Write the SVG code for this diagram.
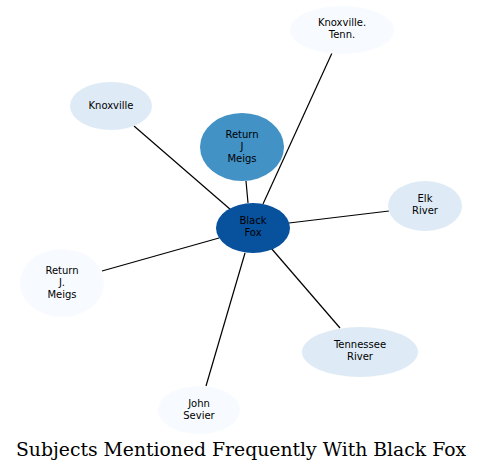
<svg xmlns="http://www.w3.org/2000/svg" width="483" height="472" viewBox="0 0 483 472">
<style>
.lbl{font-family:"DejaVu Sans",sans-serif;font-size:10px;fill:#000;text-anchor:middle}
.edge{stroke:#000;stroke-width:1.2;fill:none}
.title{font-family:"DejaVu Serif",serif;font-size:18.8px;fill:#000;text-anchor:middle}
</style>
<rect width="483" height="472" fill="#fff"/>
<g id="edges">
<line class="edge" x1="248" y1="203" x2="246" y2="181"/>
<line class="edge" x1="263" y1="204" x2="332" y2="53"/>
<line class="edge" x1="231" y1="210" x2="134" y2="126"/>
<line class="edge" x1="289" y1="223" x2="389" y2="211"/>
<line class="edge" x1="219" y1="238" x2="102" y2="271"/>
<line class="edge" x1="271" y1="248" x2="340" y2="328"/>
<line class="edge" x1="245" y1="253" x2="206" y2="386"/>
</g>
<g id="n-meigs">
<ellipse cx="242" cy="147" rx="42" ry="34" fill="#4292c6"/>
<text class="lbl" x="242" y="138">Return</text>
<text class="lbl" x="242" y="150">J</text>
<text class="lbl" x="242" y="162">Meigs</text>
</g>
<g id="n-blackfox">
<ellipse cx="253" cy="228" rx="37" ry="25" fill="#08519c"/>
<text class="lbl" x="253" y="224">Black</text>
<text class="lbl" x="253" y="236">Fox</text>
</g>
<g id="n-knoxtenn">
<ellipse cx="342" cy="30" rx="52" ry="24" fill="#f7fbff"/>
<text class="lbl" x="342" y="26">Knoxville.</text>
<text class="lbl" x="342" y="38">Tenn.</text>
</g>
<g id="n-knoxville">
<ellipse cx="111" cy="106" rx="41" ry="24" fill="#deebf7"/>
<text class="lbl" x="111" y="109">Knoxville</text>
</g>
<g id="n-elk">
<ellipse cx="425" cy="206" rx="37" ry="25" fill="#deebf7"/>
<text class="lbl" x="425" y="202">Elk</text>
<text class="lbl" x="425" y="214">River</text>
</g>
<g id="n-meigs2">
<ellipse cx="62" cy="283" rx="42" ry="34" fill="#f7fbff"/>
<text class="lbl" x="62" y="274">Return</text>
<text class="lbl" x="62" y="286">J.</text>
<text class="lbl" x="62" y="298">Meigs</text>
</g>
<g id="n-tennessee">
<ellipse cx="360" cy="352" rx="58" ry="25" fill="#deebf7"/>
<text class="lbl" x="360" y="348">Tennessee</text>
<text class="lbl" x="360" y="360">River</text>
</g>
<g id="n-sevier">
<ellipse cx="199" cy="410" rx="41" ry="24" fill="#f7fbff"/>
<text class="lbl" x="199" y="407">John</text>
<text class="lbl" x="199" y="419">Sevier</text>
</g>
<text class="title" x="241" y="456">Subjects Mentioned Frequently With Black Fox</text>
</svg>
